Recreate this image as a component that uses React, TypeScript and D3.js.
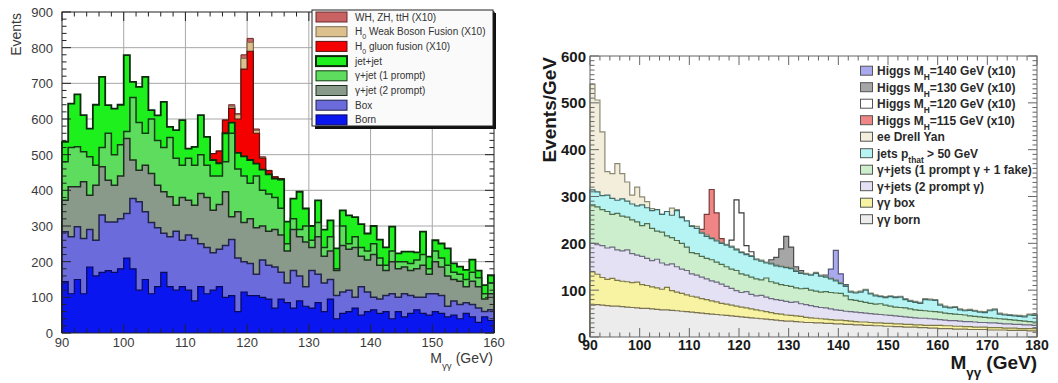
import { useEffect, useRef } from "react";
import * as d3 from "d3";

// left plot: stacked histogram, cumulative level of each layer, 1 GeV bins from 90 GeV
const leftBins = d3.range(90, 160);
const leftBorn = [
  144, 110, 150, 110, 185, 160, 170, 175, 170, 180,
  210, 180, 120, 150, 110, 130, 170, 130, 120, 130,
  120, 90, 130, 110, 120, 130, 100, 105, 60, 115,
  105, 105, 100, 95, 70, 95, 85, 70, 90, 75,
  70, 85, 60, 95, 40, 55, 60, 70, 50, 60,
  65, 55, 60, 40, 60, 45, 55, 65, 55, 50,
  60, 55, 45, 50, 40, 55, 45, 30, 45, 35,
];
const leftBox = [
  284, 270, 298, 265, 290, 260, 331, 311, 311, 320,
  335, 377, 368, 340, 310, 295, 280, 270, 285, 260,
  275, 265, 250, 240, 225, 235, 245, 262, 210, 200,
  195, 165, 205, 190, 185, 170, 140, 175, 160, 130,
  175, 165, 140, 150, 105, 115, 120, 100, 130, 115,
  100, 95, 105, 110, 100, 110, 105, 100, 100, 110,
  110, 105, 75, 90, 80, 85, 80, 70, 60, 65,
];
const leftGJet2 = [
  372, 410, 410, 424, 386, 414, 466, 428, 414, 440,
  545, 485, 456, 470, 447, 414, 396, 382, 358, 380,
  372, 358, 391, 380, 344, 360, 396, 326, 340, 310,
  320, 295, 300, 285, 290, 275, 230, 290, 270, 255,
  240, 270, 215, 230, 175, 245, 235, 240, 215, 205,
  220, 190, 175, 200, 180, 185, 175, 180, 190, 165,
  200, 185, 160, 150, 145, 130, 145, 130, 95, 110,
];
const leftGJet1 = [
  480, 520, 522, 508, 494, 470, 520, 560, 500, 528,
  565, 660, 590, 560, 600, 540, 520, 548, 490, 470,
  490, 470, 500, 470, 440, 440, 480, 560, 460, 440,
  420, 440, 400, 390, 380, 350, 250, 320, 290, 300,
  260, 310, 240, 270, 180, 300, 250, 270, 240, 230,
  250, 210, 190, 230, 200, 200, 195, 205, 220, 180,
  230, 210, 190, 170, 165, 150, 170, 155, 110, 140,
];
const leftJetJet = [
  536, 643, 669, 611, 573, 640, 718, 639, 629, 640,
  779, 704, 690, 718, 625, 610, 648, 578, 569, 597,
  517, 522, 611, 550, 485, 476, 560, 590, 505, 495,
  485, 475, 458, 445, 433, 430, 312, 377, 396, 349,
  300, 372, 290, 316, 237, 344, 330, 325, 305, 279,
  300, 262, 240, 298, 223, 228, 228, 226, 284, 214,
  260, 251, 237, 195, 186, 177, 206, 175, 134, 162,
];
// signal levels (x10), bins 114..125
const leftSignalBins = d3.range(114, 126);
const leftGluon = [503, 510, 597, 630, 600, 740, 790, 560, 490, 455, 438, 433];
const leftWbf = [503, 510, 597, 636, 612, 770, 815, 568, 492, 455, 438, 433];
const leftWh = [503, 510, 597, 640, 615, 780, 826, 572, 494, 456, 438, 433];

// right plot: Events/GeV, cumulative levels, 1 GeV bins from 90 GeV
const rightBins = d3.range(90, 180);
const rightBorn = [
  68, 69, 68, 67, 66, 66, 65, 64, 63, 62,
  61, 61, 60, 59, 58, 58, 57, 56, 55, 54,
  53, 52, 51, 50, 49, 48, 47, 46, 45, 44,
  43, 42, 41, 40, 39, 38, 37, 36, 35, 34,
  34, 33, 32, 31, 31, 30, 30, 29, 29, 28,
  28, 27, 27, 26, 26, 25, 25, 24, 24, 23,
  23, 22, 22, 21, 21, 21, 20, 20, 19, 19,
  18, 18, 18, 17, 17, 17, 16, 16, 16, 16,
  15, 15, 15, 15, 14, 14, 14, 14, 13, 13,
];
const rightBox = [
  139, 134, 127, 123, 125, 121, 119, 118, 116, 117,
  112, 110, 107, 105, 102, 106, 99, 96, 93, 90,
  87, 85, 82, 80, 77, 75, 72, 70, 68, 66,
  64, 62, 60, 58, 56, 54, 52, 50, 49, 47,
  46, 45, 44, 42, 41, 40, 39, 38, 37, 36,
  36, 35, 34, 33, 32, 32, 31, 30, 30, 29,
  29, 28, 28, 27, 27, 26, 26, 25, 25, 25,
  25, 24, 24, 23, 23, 22, 22, 21, 21, 21,
  20, 20, 20, 19, 19, 19, 18, 18, 18, 18,
];
const rightTwoPrompt = [
  200, 197, 195, 190, 192, 186, 184, 186, 178, 175,
  172, 168, 163, 166, 158, 154, 156, 150, 145, 142,
  135, 132, 128, 124, 120, 117, 113, 108, 104, 99,
  95, 97, 91, 88, 89, 85, 82, 80, 78, 76,
  74, 75, 71, 69, 67, 65, 63, 62, 60, 58,
  57, 55, 54, 53, 52, 51, 50, 49, 48, 47,
  46, 45, 44, 43, 42, 41, 40, 40, 39, 38,
  37, 36, 35, 35, 34, 33, 33, 32, 31, 31,
  30, 30, 29, 28, 28, 27, 27, 26, 26, 25,
];
const rightOnePrompt = [
  282, 278, 272, 268, 262, 264, 258, 256, 250, 246,
  238, 242, 232, 226, 224, 216, 212, 206, 200, 192,
  180, 178, 172, 168, 165, 160, 155, 150, 145, 142,
  135, 132, 128, 124, 122, 126, 118, 115, 112, 110,
  108, 105, 103, 104, 100, 98, 96, 97, 95, 94,
  93, 88, 80, 78, 76, 74, 72, 70, 71, 68,
  66, 64, 63, 62, 60, 58, 57, 56, 55, 54,
  53, 51, 50, 49, 48, 47, 45, 44, 43, 42,
  41, 40, 39, 38, 37, 36, 35, 34, 33, 32,
];
const rightJets = [
  314, 310, 302, 303, 296, 292, 295, 290, 284, 280,
  282, 276, 270, 272, 262, 268, 260, 270, 255, 248,
  236, 232, 222, 215, 210, 205, 200, 196, 192, 186,
  180, 176, 172, 165, 162, 158, 156, 152, 150, 148,
  146, 140, 136, 134, 132, 136, 130, 128, 124, 120,
  114, 108, 96, 94, 96, 100, 92, 88, 86, 84,
  86, 84, 85, 80, 76, 74, 72, 80, 79, 78,
  68, 64, 62, 63, 58, 56, 57, 55, 53, 52,
  56, 58, 49, 47, 46, 45, 44, 43, 47, 46,
];
const rightDrellYan = [
  540, 506, 438, 353, 349, 370, 349, 331, 303, 320,
  299, 289, 274, 266, 262, 258, 275, 272, 257, 246,
  238, 236, 224, 218, 212, 207, 202, 198, 194, 188,
  182, 178, 174, 167, 164, 160, 158, 154, 152, 150,
  148, 142, 138, 136, 134, 138, 132, 130, 126, 122,
  116, 110, 98, 96, 98, 102, 94, 90, 88, 86,
  88, 86, 87, 82, 78, 76, 74, 82, 81, 80,
  70, 66, 64, 65, 60, 58, 59, 57, 55, 54,
  58, 60, 51, 49, 48, 47, 46, 45, 49, 48,
];
const h115Bins = d3.range(112, 117);
const h115 = [230, 262, 315, 265, 210];
const h120Bins = d3.range(118, 123);
const h120 = [207, 293, 265, 195, 182];
const h130Bins = d3.range(126, 133);
const h130 = [165, 170, 188, 215, 192, 150, 142];
const h140Bins = d3.range(137, 142);
const h140 = [132, 145, 185, 135, 112];

type Part = string | { sub: string };

const leftLegend: { label: Part[]; key: string }[] = [
  { label: ["WH, ZH, ttH (X10)"], key: "wh" },
  { label: ["H", { sub: "0" }, " Weak Boson Fusion (X10)"], key: "wbf" },
  { label: ["H", { sub: "0" }, " gluon fusion (X10)"], key: "gluon" },
  { label: ["jet+jet"], key: "jetjet" },
  { label: ["γ+jet (1 prompt)"], key: "gjet1" },
  { label: ["γ+jet (2 prompt)"], key: "gjet2" },
  { label: ["Box"], key: "box" },
  { label: ["Born"], key: "born" },
];

const rightLegend: { label: Part[]; key: string }[] = [
  { label: ["Higgs M", { sub: "H" }, "=140 GeV (x10)"], key: "h140" },
  { label: ["Higgs M", { sub: "H" }, "=130 GeV (x10)"], key: "h130" },
  { label: ["Higgs M", { sub: "H" }, "=120 GeV (x10)"], key: "h120" },
  { label: ["Higgs M", { sub: "H" }, "=115 GeV (x10)"], key: "h115" },
  { label: ["ee Drell Yan"], key: "dy" },
  { label: ["jets p", { sub: "that" }, " > 50 GeV"], key: "jets" },
  { label: ["γ+jets (1 prompt γ + 1 fake)"], key: "one" },
  { label: ["γ+jets (2 prompt γ)"], key: "two" },
  { label: ["γγ box"], key: "box" },
  { label: ["γγ born"], key: "born" },
];

const leftStyle: Record<string, { fill: string; stroke: string; w: number }> = {
  wh: { fill: "#c96262", stroke: "#6a2a2a", w: 1 },
  wbf: { fill: "#dcc08e", stroke: "#7a6a4a", w: 1 },
  gluon: { fill: "#f40000", stroke: "#5a1010", w: 1.2 },
  jetjet: { fill: "#1ef01e", stroke: "#0b2b0b", w: 1.8 },
  gjet1: { fill: "#5ddc5d", stroke: "#143a14", w: 1.5 },
  gjet2: { fill: "#8a9a8a", stroke: "#1e2e1e", w: 1.5 },
  box: { fill: "#6b6bdc", stroke: "#22224a", w: 1.5 },
  born: { fill: "#0a16f0", stroke: "#0a0a5a", w: 1.2 },
};

const rightStyle: Record<string, { fill: string; stroke: string }> = {
  h140: { fill: "#a9a9ee", stroke: "#55557a" },
  h130: { fill: "#a6a6a6", stroke: "#4a4a4a" },
  h120: { fill: "#ffffff", stroke: "#3a3a3a" },
  h115: { fill: "#f08585", stroke: "#7a3a3a" },
  dy: { fill: "#f3eedb", stroke: "#8a8a72" },
  jets: { fill: "#b6f4f4", stroke: "#3e6a6a" },
  one: { fill: "#cdeecd", stroke: "#4e6e4e" },
  two: { fill: "#e5e1f5", stroke: "#6e6a80" },
  box: { fill: "#f8f3a2", stroke: "#7e7a44" },
  born: { fill: "#ececec", stroke: "#7a7052" },
};

const FONT = "'Liberation Sans', Arial, Helvetica, sans-serif";

const rich = (t: any, parts: Part[]) => {
  parts.forEach((p) => {
    if (typeof p === "string") t.append("tspan").text(p);
    else t.append("tspan").attr("baseline-shift", "sub").attr("font-size", "70%").text(p.sub);
  });
};

// filled step histogram + outline, drawn as ROOT does for one stacked level
const hist = (g: any, x: any, y: any, bins: number[], vals: number[], fill: string, stroke: string, w: number) => {
  const pts: [number, number][] = bins.map((b, i) => [b, vals[i]]);
  const end = bins[bins.length - 1] + 1;
  pts.push([end, vals[vals.length - 1]]);
  const area = d3.area<[number, number]>()
    .x((d) => x(d[0]))
    .y0(y(0))
    .y1((d) => y(d[1]))
    .curve(d3.curveStepAfter);
  const line = d3.line<[number, number]>()
    .x((d) => x(d[0]))
    .y((d) => y(d[1]))
    .curve(d3.curveStepAfter);
  g.append("path").attr("d", area(pts)).attr("fill", fill);
  g.append("path")
    .attr("d", line([[bins[0], 0], ...pts, [end, 0]]))
    .attr("fill", "none")
    .attr("stroke", stroke)
    .attr("stroke-width", w);
};

const ticks = (g: any, x: any, y: any, xMaj: number[], xMin: number[], yMaj: number[], yMin: number[], color: string, maj: number, min: number) => {
  const [x0, x1] = x.range();
  const [y0, y1] = y.range();
  const tg = g.append("g").attr("stroke", color).attr("stroke-width", 1);
  xMin.forEach((v) => {
    const l = xMaj.includes(v) ? maj : min;
    tg.append("line").attr("x1", x(v)).attr("x2", x(v)).attr("y1", y0).attr("y2", y0 - l);
    tg.append("line").attr("x1", x(v)).attr("x2", x(v)).attr("y1", y1).attr("y2", y1 + l);
  });
  yMin.forEach((v) => {
    const l = yMaj.includes(v) ? maj : min;
    tg.append("line").attr("y1", y(v)).attr("y2", y(v)).attr("x1", x0).attr("x2", x0 + l);
    tg.append("line").attr("y1", y(v)).attr("y2", y(v)).attr("x1", x1).attr("x2", x1 - l);
  });
  g.append("rect")
    .attr("x", x0).attr("y", y1)
    .attr("width", x1 - x0).attr("height", y0 - y1)
    .attr("fill", "none").attr("stroke", color).attr("stroke-width", 1);
};

const drawLeft = (svg: any) => {
  const g = svg.append("g");
  const x = d3.scaleLinear().domain([90, 160]).range([62, 494]);
  const y = d3.scaleLinear().domain([0, 900]).range([333, 12]);
  const xMaj = d3.range(90, 161, 10);
  const yMaj = d3.range(0, 901, 100);

  // grid
  const grid = g.append("g").attr("stroke", "#a8a8a8").attr("stroke-width", 1);
  xMaj.slice(1, -1).forEach((v) =>
    grid.append("line").attr("x1", x(v)).attr("x2", x(v)).attr("y1", y(0)).attr("y2", y(900))
  );
  yMaj.slice(1, -1).forEach((v) =>
    grid.append("line").attr("y1", y(v)).attr("y2", y(v)).attr("x1", x(90)).attr("x2", x(160))
  );

  const s = leftStyle;
  hist(g, x, y, leftSignalBins, leftWh, s.wh.fill, s.wh.stroke, s.wh.w);
  hist(g, x, y, leftSignalBins, leftWbf, s.wbf.fill, s.wbf.stroke, s.wbf.w);
  hist(g, x, y, leftSignalBins, leftGluon, s.gluon.fill, s.gluon.stroke, s.gluon.w);
  hist(g, x, y, leftBins, leftJetJet, s.jetjet.fill, s.jetjet.stroke, s.jetjet.w);
  hist(g, x, y, leftBins, leftGJet1, s.gjet1.fill, s.gjet1.stroke, s.gjet1.w);
  hist(g, x, y, leftBins, leftGJet2, s.gjet2.fill, s.gjet2.stroke, s.gjet2.w);
  hist(g, x, y, leftBins, leftBox, s.box.fill, s.box.stroke, s.box.w);
  hist(g, x, y, leftBins, leftBorn, s.born.fill, s.born.stroke, s.born.w);

  ticks(g, x, y, xMaj, d3.range(90, 161, 2), yMaj, d3.range(0, 901, 20), "#222", 9, 4.5);

  const lab = g.append("g").attr("font-family", FONT).attr("font-size", 13).attr("fill", "#3a3a3a");
  yMaj.forEach((v) =>
    lab.append("text").attr("x", 53).attr("y", y(v) + 5).attr("text-anchor", "end").text(v)
  );
  xMaj.forEach((v) =>
    lab.append("text").attr("x", x(v)).attr("y", 347).attr("text-anchor", "middle").text(v)
  );
  lab.append("text")
    .attr("transform", "translate(21,13) rotate(-90)")
    .attr("text-anchor", "end").attr("font-size", 14).text("Events");
  const xt = lab.append("text").attr("x", 493).attr("y", 363).attr("text-anchor", "end").attr("font-size", 14);
  rich(xt, ["M", { sub: "γγ" }, " (GeV)"]);

  // legend with ROOT shadow
  const lg = g.append("g").attr("font-family", FONT);
  lg.append("rect").attr("x", 315).attr("y", 13).attr("width", 181).attr("height", 116).attr("fill", "#111");
  lg.append("rect").attr("x", 312).attr("y", 10).attr("width", 181).attr("height", 116)
    .attr("fill", "#fafafa").attr("stroke", "#222").attr("stroke-width", 1);
  leftLegend.forEach((e, i) => {
    const cy = 17 + i * 14.7;
    const st = leftStyle[e.key];
    lg.append("rect").attr("x", 316).attr("y", cy - 5).attr("width", 31).attr("height", 10)
      .attr("fill", st.fill).attr("stroke", st.stroke).attr("stroke-width", e.key === "jetjet" ? 2 : 1);
    const t = lg.append("text").attr("x", 355).attr("y", cy + 3.5).attr("font-size", 10).attr("fill", "#333");
    rich(t, e.label);
  });
};

const drawRight = (svg: any) => {
  const g = svg.append("g");
  const x = d3.scaleLinear().domain([90, 180]).range([590, 1037]);
  const y = d3.scaleLinear().domain([0, 600]).range([337, 56]);
  const s = rightStyle;
  const bkgW = 1.2;

  hist(g, x, y, h140Bins, h140, s.h140.fill, s.h140.stroke, bkgW);
  hist(g, x, y, h130Bins, h130, s.h130.fill, s.h130.stroke, bkgW);
  hist(g, x, y, h120Bins, h120, s.h120.fill, s.h120.stroke, bkgW);
  hist(g, x, y, h115Bins, h115, s.h115.fill, s.h115.stroke, bkgW);
  hist(g, x, y, rightBins, rightDrellYan, s.dy.fill, s.dy.stroke, bkgW);
  hist(g, x, y, rightBins, rightJets, s.jets.fill, s.jets.stroke, bkgW);
  hist(g, x, y, rightBins, rightOnePrompt, s.one.fill, s.one.stroke, bkgW);
  hist(g, x, y, rightBins, rightTwoPrompt, s.two.fill, s.two.stroke, bkgW);
  hist(g, x, y, rightBins, rightBox, s.box.fill, s.box.stroke, bkgW);
  hist(g, x, y, rightBins, rightBorn, s.born.fill, s.born.stroke, bkgW);

  const xMaj = d3.range(90, 181, 10);
  const yMaj = d3.range(0, 601, 100);
  ticks(g, x, y, xMaj, d3.range(90, 181, 2), yMaj, d3.range(0, 601, 10), "#666", 9, 4.5);

  const lab = g.append("g").attr("font-family", FONT).attr("font-weight", "bold").attr("fill", "#1a1a1a");
  yMaj.forEach((v) =>
    lab.append("text").attr("x", 586).attr("y", y(v) + 5.5).attr("text-anchor", "end").attr("font-size", 15).text(v)
  );
  xMaj.forEach((v) =>
    lab.append("text").attr("x", x(v)).attr("y", 350).attr("text-anchor", "middle").attr("font-size", 14).text(v)
  );
  lab.append("text")
    .attr("transform", "translate(556,57) rotate(-90)")
    .attr("text-anchor", "end").attr("font-size", 19).text("Events/GeV");
  const xt = lab.append("text").attr("x", 1037).attr("y", 369).attr("text-anchor", "end").attr("font-size", 19);
  rich(xt, ["M", { sub: "γγ" }, " (GeV)"]);

  const lg = g.append("g").attr("font-family", FONT);
  rightLegend.forEach((e, i) => {
    const cy = 70.7 + i * 16.5;
    const st = rightStyle[e.key];
    lg.append("rect").attr("x", 860.5).attr("y", cy - 4.5).attr("width", 12).attr("height", 9)
      .attr("fill", st.fill).attr("stroke", "#555").attr("stroke-width", 1);
    const t = lg.append("text").attr("x", 877).attr("y", cy + 4.5)
      .attr("font-size", 12).attr("font-weight", "bold").attr("fill", "#2a2a2a");
    rich(t, e.label);
  });
};

export default function App() {
  const ref = useRef<SVGSVGElement>(null);

  useEffect(() => {
    const svg = d3.select(ref.current);
    svg.selectAll("*").remove();
    drawLeft(svg);
    drawRight(svg);
  }, []);

  return (
    <svg
      ref={ref}
      width={1058}
      height={383}
      style={{ position: "absolute", left: 0, top: 0, background: "#fff" }}
    />
  );
}
